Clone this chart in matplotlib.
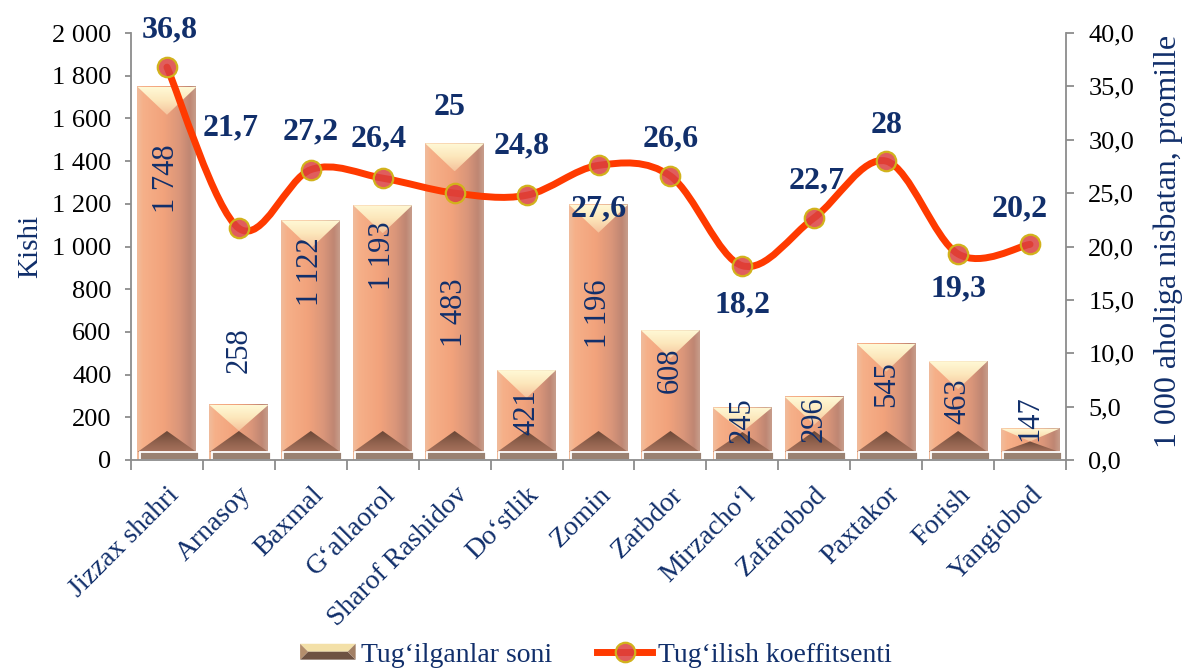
import numpy as np
import matplotlib
matplotlib.use('Agg')
import matplotlib.pyplot as plt
from matplotlib.colors import LinearSegmentedColormap
from matplotlib.patches import Polygon, Rectangle, PathPatch
from matplotlib.path import Path
from matplotlib.lines import Line2D
from matplotlib.ticker import FuncFormatter, FixedLocator
from matplotlib.legend_handler import HandlerBase

plt.rcParams['font.family'] = ['Liberation Serif', 'DejaVu Serif']

# ---------------- data ----------------
categories = ["Jizzax shahri", "Arnasoy", "Baxmal", "G\u2018allaorol", "Sharof Rashidov",
              "Do\u2018stlik", "Zomin", "Zarbdor", "Mirzacho\u2018l", "Zafarobod",
              "Paxtakor", "Forish", "Yangiobod"]
births = [1748, 258, 1122, 1193, 1483, 421, 1196, 608, 245, 296, 545, 463, 147]
rate = [36.8, 21.7, 27.2, 26.4, 25.0, 24.8, 27.6, 26.6, 18.2, 22.7, 28.0, 19.3, 20.2]
series_bar = "Tug\u2018ilganlar soni"
series_line = "Tug\u2018ilish koeffitsenti"
left_label = "Kishi"
right_label = "1 000 aholiga nisbatan, promille"

# ---------------- style / placement ----------------
NAVY = '#112F6B'
GRAY = '#8C8C8C'
bar_label_y = [1316, 515, 880, 955, 688, 225, 684, 422, 187, 192, 356, 276, 197]
rate_label_dy = [37, 100, 38, 39, 86, 49, -44, 37, -39, 37, 36, -35, 35]
rate_label_dx = [3, -8, 0, -4, -5, -5, 0, 0, 0, 2, 0, 0, -10]

W, H = 1185, 671
fig = plt.figure(figsize=(W / 100, H / 100), dpi=100)
L, R, T, B = 131, 1066, 33, 460
ax = fig.add_axes([L / W, 1 - B / H, (R - L) / W, (B - T) / H])
ax2 = ax.twinx()

n = len(categories)
x = np.arange(n)
ax.set_xlim(-0.5, n - 0.5)
ax.set_ylim(0, 2000)
ax2.set_ylim(0, 40)

px_per_unit = (B - T) / 2000.0
bw = 0.82
d_top = 28 / px_per_unit
d_bot = 21 / px_per_unit
base_h = 8 / px_per_unit

body_cmap = LinearSegmentedColormap.from_list('body', [
    (0.0, '#F0BC9C'), (0.1, '#F6B089'), (0.45, '#F2A37C'),
    (0.72, '#DA967A'), (0.9, '#BF8673'), (1.0, '#C79E8C')])
cap_cmap = LinearSegmentedColormap.from_list('cap', ['#F5C29C', '#FCE6BA', '#FFF9D6'])
bot_cmap = LinearSegmentedColormap.from_list('bot', ['#A8735D', '#8E604C', '#6A4737'])

hgrad = np.linspace(0, 1, 256).reshape(1, -1)
vgrad = np.linspace(0, 1, 128).reshape(-1, 1)

for i, v in enumerate(births):
    x0, x1, xc = i - bw / 2, i + bw / 2, i
    ax.imshow(hgrad, cmap=body_cmap, extent=[x0, x1, 0, v], aspect='auto',
              zorder=2, interpolation='bicubic', origin='lower')
    h = v - base_h
    dt = min(d_top, 0.55 * h)
    db = min(d_bot, 0.45 * h)
    # top bevel (light V)
    tri = Polygon([[x0, v], [x1, v], [xc, v - dt]], closed=True, transform=ax.transData)
    im = ax.imshow(vgrad, cmap=cap_cmap, extent=[x0, x1, v - dt, v], aspect='auto',
                   zorder=2.1, interpolation='bicubic', origin='lower')
    im.set_clip_path(tri)
    # bottom bevel (dark pyramid)
    tri2 = Polygon([[x0, base_h], [x1, base_h], [xc, base_h + db]], closed=True,
                   transform=ax.transData)
    im2 = ax.imshow(vgrad, cmap=bot_cmap, extent=[x0, x1, base_h, base_h + db],
                    aspect='auto', zorder=2.1, interpolation='bicubic', origin='lower')
    im2.set_clip_path(tri2)
    # base plate
    ax.add_patch(Rectangle((x0 + 0.03, 0), bw, base_h, facecolor='#9A8272',
                           edgecolor='white', linewidth=1.3, zorder=2.2))
    ax.text(xc, bar_label_y[i], f"{v:,}".replace(',', ' '), rotation=90,
            ha='center', va='center', fontsize=22, color=NAVY, zorder=5)

ax.set_xlim(-0.5, n - 0.5)
ax.set_ylim(0, 2000)

# ---------------- smoothed line (Catmull-Rom as Bezier) ----------------
pts = np.column_stack([x, rate]).astype(float)
ext = np.vstack([pts[0], pts, pts[-1]])
verts = [tuple(pts[0])]
codes = [Path.MOVETO]
for k in range(1, n):
    p0, p1, p2, p3 = ext[k - 1], ext[k], ext[k + 1], ext[k + 2]
    c1 = p1 + (p2 - p0) / 6.0
    c2 = p2 - (p3 - p1) / 6.0
    verts += [tuple(c1), tuple(c2), tuple(p2)]
    codes += [Path.CURVE4] * 3
ax2.add_patch(PathPatch(Path(verts, codes), facecolor='none', edgecolor='#FF3A00',
                        linewidth=5, capstyle='round', joinstyle='round', zorder=3))
ax2.plot(x, rate, linestyle='none', marker='o', markersize=14,
         markerfacecolor=(0.86, 0.25, 0.25, 0.85), markeredgecolor='#D2B21C',
         markeredgewidth=1.6, zorder=4)
for i, v in enumerate(rate):
    ax2.annotate(f"{v:g}".replace('.', ','), (x[i], v), xytext=(rate_label_dx[i], rate_label_dy[i]),
                 textcoords='offset pixels', ha='center', va='center', fontsize=23,
                 fontweight='bold', color=NAVY, zorder=6)

# ---------------- axes styling ----------------
for a in (ax, ax2):
    a.spines['top'].set_visible(False)
    for s in ('left', 'right', 'bottom'):
        a.spines[s].set_color(GRAY)
        a.spines[s].set_linewidth(1.3)
ax.spines['right'].set_visible(False)
ax2.spines['left'].set_visible(False)
ax2.spines['bottom'].set_visible(False)

ax.yaxis.set_major_locator(FixedLocator(np.arange(0, 2001, 200)))
ax.yaxis.set_major_formatter(FuncFormatter(lambda v, p: f"{int(v):,}".replace(',', ' ')))
ax2.yaxis.set_major_locator(FixedLocator(np.arange(0, 40.1, 5)))
ax2.yaxis.set_major_formatter(FuncFormatter(lambda v, p: f"{v:.1f}".replace('.', ',')))
ax.tick_params(axis='y', direction='out', length=4, width=1.3, color=GRAY,
               labelsize=19, labelcolor='black', pad=10)
ax2.tick_params(axis='y', direction='out', length=6, width=1.3, color=GRAY,
                labelsize=19, labelcolor='black', pad=10)

ax.set_xticks(x)
ax.set_xticklabels(categories, rotation=45, ha='right', va='top',
                   rotation_mode='anchor', fontsize=20, color=NAVY)
ax.tick_params(axis='x', which='major', length=0, pad=16)
ax.set_xticks(np.arange(-0.5, n, 1.0), minor=True)
ax.tick_params(axis='x', which='minor', direction='out', length=7, width=1.3, color=GRAY)

fig.text(30 / W, 1 - 246 / H, left_label, rotation=90, ha='center', va='center',
         fontsize=21, color=NAVY)
fig.text(1168 / W, 1 - 241 / H, right_label, rotation=90, ha='center', va='center',
         fontsize=23, color=NAVY)

# ---------------- legend ----------------
class BevelKey:
    pass


class BevelHandler(HandlerBase):
    def create_artists(self, legend, orig_handle, xdescent, ydescent, width, height,
                       fontsize, trans):
        x0, y0 = -xdescent, -ydescent
        w, h = width, height * 0.9
        y0 = y0 + (height - h) / 2
        m = h / 2
        top = Polygon([[x0, y0 + h], [x0 + w, y0 + h], [x0 + w - m, y0 + m], [x0 + m, y0 + m]],
                      facecolor='#F3E0A8', edgecolor='none', transform=trans)
        bot = Polygon([[x0, y0], [x0 + w, y0], [x0 + w - m, y0 + m], [x0 + m, y0 + m]],
                      facecolor='#6E5242', edgecolor='none', transform=trans)
        lft = Polygon([[x0, y0], [x0, y0 + h], [x0 + m, y0 + m]],
                      facecolor='#B48E6C', edgecolor='none', transform=trans)
        rgt = Polygon([[x0 + w, y0], [x0 + w, y0 + h], [x0 + w - m, y0 + m]],
                      facecolor='#A27F64', edgecolor='none', transform=trans)
        return [top, bot, lft, rgt]


line_key = Line2D([], [], color='#FF3A00', linewidth=5, marker='o', markersize=14,
                  markerfacecolor=(0.86, 0.25, 0.25, 0.85), markeredgecolor='#D2B21C',
                  markeredgewidth=1.6)
fig.legend([BevelKey(), line_key], [series_bar, series_line],
           handler_map={BevelKey: BevelHandler()},
           loc='center', bbox_to_anchor=(596 / W, 1 - 655 / H), ncol=2, frameon=False,
           fontsize=20, labelcolor=NAVY, handlelength=2.0, handletextpad=0.2,
           columnspacing=1.6, handleheight=0.6)

fig.savefig('out.png', dpi=100)
